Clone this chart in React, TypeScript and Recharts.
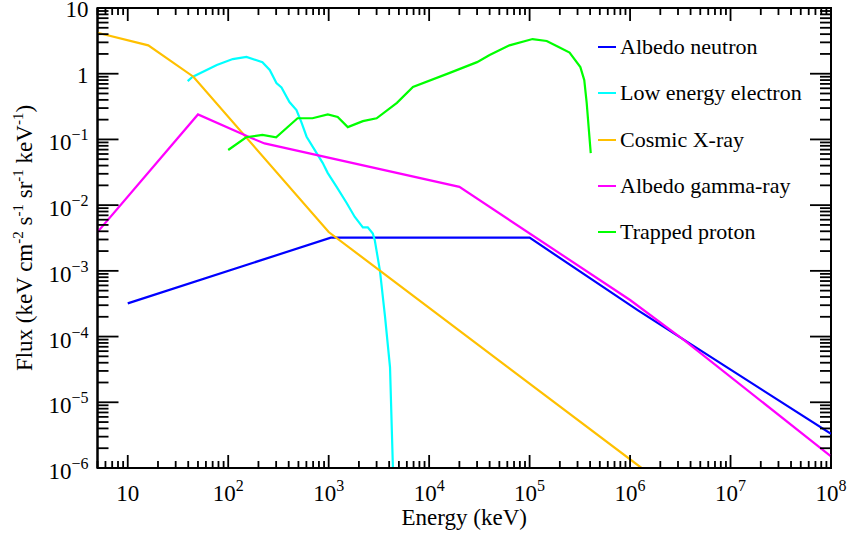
import { LineChart, Line, XAxis, YAxis, ReferenceArea } from 'recharts'

const FONT = '"Liberation Serif", "Times New Roman", serif'

// energy in keV, flux in keV cm^-2 s^-1 sr^-1 keV^-1
const neutronE = [10, 1050, 1e5, 1.2e6, 1e8]
const neutronF = [3.2e-4, 3.2e-3, 3.2e-3, 2.5e-4, 3.3e-6]

const electronE = [39.5, 44, 77, 111, 152, 219, 259, 302, 339, 407, 478, 537, 603, 759, 871, 977, 1200, 1510, 1820, 2190, 2450, 2750, 2880, 3240, 3640, 4080, 4360]
const electronF = [0.77, 0.89, 1.36, 1.67, 1.8, 1.5, 1.14, 0.72, 0.62, 0.37, 0.28, 0.18, 0.11, 0.062, 0.044, 0.031, 0.019, 0.0108, 6.6e-3, 4.6e-3, 4.6e-3, 3.7e-3, 2.9e-3, 1.0e-3, 2e-4, 3.4e-5, 1e-6]

const xrayE = [5, 16, 45, 1000, 1.3e6]
const xrayF = [4.2, 2.7, 0.9, 3.9e-3, 1e-6]

const gammaE = [5, 50, 170, 230, 2e4, 1e6, 3.5e6, 1e8]
const gammaF = [3.9e-3, 0.24, 0.105, 0.087, 0.019, 3.6e-4, 8.7e-5, 1.5e-6]

const protonE = [100, 151, 219, 300, 490, 690, 980, 1230, 1550, 2190, 3000, 4780, 6900, 1.58e4, 3.0e4, 4.0e4, 6.3e4, 1.07e5, 1.48e5, 1.9e5, 2.5e5, 3.2e5, 3.5e5, 3.7e5, 4.06e5]
const protonF = [0.069, 0.108, 0.117, 0.108, 0.21, 0.21, 0.24, 0.22, 0.154, 0.19, 0.21, 0.36, 0.63, 1.02, 1.5, 1.92, 2.7, 3.37, 3.15, 2.6, 2.1, 1.26, 0.8, 0.36, 0.062]

const xDecades = [1, 2, 3, 4, 5, 6, 7, 8]
const yDecades = [-6, -5, -4, -3, -2, -1, 0, 1]

const series = [
  { name: 'Albedo neutron', color: '#0000ff', e: neutronE, f: neutronF },
  { name: 'Low energy electron', color: '#00ffff', e: electronE, f: electronF },
  { name: 'Cosmic X-ray', color: '#ffc000', e: xrayE, f: xrayF },
  { name: 'Albedo gamma-ray', color: '#ff00ff', e: gammaE, f: gammaF },
  { name: 'Trapped proton', color: '#00ff00', e: protonE, f: protonF }
]

const W = 847
const H = 533
const MARGIN = { top: 8, right: 16, bottom: 0, left: 0 }
const PLOT_TOP = MARGIN.top
const PLOT_RIGHT = W - MARGIN.right

const toPoints = (e: number[], f: number[]) => e.map((x, i) => ({ x, y: f[i] }))

// major ticks + 2..9 minor ticks in between
const withMinor = (decades: number[], lo: number, hi: number) => {
  const out: number[] = []
  for (let d = decades[0] - 1; d <= decades[decades.length - 1]; d++) {
    for (let m = 1; m < 10; m++) {
      const v = m * Math.pow(10, d)
      if (v >= lo * 0.999 && v <= hi * 1.001) out.push(v)
    }
  }
  return out
}
const xTicks = withMinor(xDecades, 5, 1e8)
const yTicks = withMinor(yDecades, 1e-6, 10)

const decadeOf = (v: number) => {
  const l = Math.log10(v)
  return Math.abs(l - Math.round(l)) < 1e-6 ? Math.round(l) : null
}

// bottom + mirrored top tick marks, drawn inward
const BottomTick = (props: any) => {
  const { x, y, payload } = props
  const d = decadeOf(payload.value)
  const major = d !== null
  const len = major ? 13 : 7
  return (
    <g>
      <rect x={x - 0.9} y={y - len} width={1.8} height={len} fill="#000" />
      <rect x={x - 0.9} y={PLOT_TOP} width={1.8} height={len} fill="#000" />
      {major && (
        <text x={x} y={y + 33} textAnchor="middle" fontFamily={FONT} fontSize={23} fill="#000">
          10{d !== 1 && <tspan dy={-10} fontSize={16}>{d}</tspan>}
        </text>
      )}
    </g>
  )
}

// left + mirrored right tick marks, drawn inward
const LeftTick = (props: any) => {
  const { x, y, payload } = props
  const d = decadeOf(payload.value)
  const major = d !== null
  const sup = d !== null && d !== 0 && d !== 1
  const len = major ? 21 : 11
  return (
    <g>
      <rect x={x} y={y - 0.9} width={len} height={1.8} fill="#000" />
      <rect x={PLOT_RIGHT - len} y={y - 0.9} width={len} height={1.8} fill="#000" />
      {major && (
        <text x={x - 9} y={y + (sup ? 11 : 9)} textAnchor="end" fontFamily={FONT} fontSize={23} fill="#000">
          {d === 0 ? '1' : '10'}
          {sup && <tspan dy={-10} fontSize={16}>{'\u2212' + Math.abs(d as number)}</tspan>}
        </text>
      )}
    </g>
  )
}

const YTitle = (props: any) => {
  const { viewBox } = props
  const cx = viewBox.x + 32
  const cy = viewBox.y + viewBox.height / 2
  return (
    <text x={cx} y={cy} transform={`rotate(-90, ${cx}, ${cy})`} textAnchor="middle" fontFamily={FONT} fontSize={23} fill="#000">
      Flux (keV cm<tspan dy={-9} fontSize={15}>-2</tspan>
      <tspan dy={9}> s</tspan><tspan dy={-9} fontSize={15}>-1</tspan>
      <tspan dy={9}> sr</tspan><tspan dy={-9} fontSize={15}>-1</tspan>
      <tspan dy={9}> keV</tspan><tspan dy={-9} fontSize={15}>-1</tspan>
      <tspan dy={9}>)</tspan>
    </text>
  )
}

const XTitle = (props: any) => {
  const { viewBox } = props
  return (
    <text x={viewBox.x + viewBox.width / 2} y={viewBox.y + 57} textAnchor="middle" fontFamily={FONT} fontSize={23} fill="#000">
      Energy (keV)
    </text>
  )
}

const LegendBox = () => (
  <div style={{ position: 'absolute', left: 598, top: 24, fontFamily: FONT, fontSize: 22, color: '#000' }}>
    {series.map((s) => (
      <div key={s.name} style={{ height: 46.3, display: 'flex', alignItems: 'center' }}>
        <div style={{ width: 18, height: 2, background: s.color, marginRight: 4 }} />
        <span style={{ whiteSpace: 'nowrap' }}>{s.name}</span>
      </div>
    ))}
  </div>
)

export default function App() {
  const axisLine = { stroke: '#000', strokeWidth: 2 }
  return (
    <div style={{ position: 'absolute', left: 0, top: 0, width: W, height: H, background: '#fff' }}>
      <LineChart width={W} height={H} margin={MARGIN}>
        <XAxis
          dataKey="x"
          type="number"
          scale="log"
          domain={[5, 1e8]}
          allowDataOverflow
          ticks={xTicks}
          interval={0}
          tickSize={0}
          tickMargin={0}
          tickLine={false}
          axisLine={axisLine}
          height={65}
          tick={BottomTick}
          label={{ content: XTitle }}
        />
        <YAxis
          type="number"
          scale="log"
          domain={[1e-6, 10]}
          allowDataOverflow
          ticks={yTicks}
          interval={0}
          tickSize={0}
          tickMargin={0}
          tickLine={false}
          axisLine={axisLine}
          width={97.5}
          tick={LeftTick}
          label={{ content: YTitle }}
        />
        <ReferenceArea x1={5} x2={1e8} y1={1e-6} y2={10} fill="none" stroke="#000" strokeWidth={2} ifOverflow="visible" />
        {series.map((s) => (
          <Line
            key={s.name}
            name={s.name}
            data={toPoints(s.e, s.f)}
            dataKey="y"
            type="linear"
            stroke={s.color}
            strokeWidth={2.2}
            dot={false}
            activeDot={false}
            isAnimationActive={false}
          />
        ))}
      </LineChart>
      <LegendBox />
    </div>
  )
}
